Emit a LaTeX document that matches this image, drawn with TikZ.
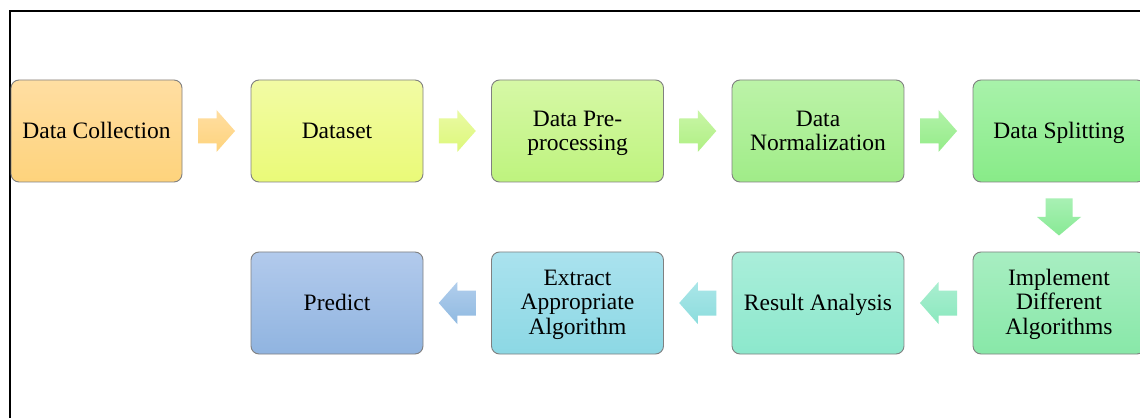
\documentclass[tikz,border=0pt]{standalone}
\usepackage{fontspec}
\setmainfont{Liberation Serif}
\usetikzlibrary{calc}
\begin{document}
\begin{tikzpicture}[x=1pt,y=1pt,
  stepbox/.style={draw=black!50, line width=0.9pt, rounded corners=8pt,
    minimum width=172pt, minimum height=102pt, align=center, inner sep=2pt,
    font=\fontsize{23.5}{24.5}\selectfont, text=black},
  oneline/.style={text height=16pt, text depth=0.5pt},
  twoline/.style={text height=44pt, text depth=4pt},
  threeline/.style={text height=66pt, text depth=4pt},
  rarrow/.pic={\path[pic actions] (-18.5,-12.5) -- (0,-12.5) -- (0,-21) -- (18.5,0) -- (0,21) -- (0,12.5) -- (-18.5,12.5) -- cycle;},
  larrow/.pic={\path[pic actions] (18.5,-12.5) -- (0,-12.5) -- (0,-21) -- (-18.5,0) -- (0,21) -- (0,12.5) -- (18.5,12.5) -- cycle;},
  darrow/.pic={\path[pic actions] (-13.5,18.5) -- (-13.5,0) -- (-22,0) -- (0,-18.5) -- (22,0) -- (13.5,0) -- (13.5,18.5) -- cycle;}
]
\definecolor{c1t}{HTML}{FFDEA2}\definecolor{c1b}{HTML}{FED37C}
\definecolor{c2t}{HTML}{F2FBA4}\definecolor{c2b}{HTML}{EAFA78}
\definecolor{c3t}{HTML}{D6F8A6}\definecolor{c3b}{HTML}{BEF37E}
\definecolor{c4t}{HTML}{BCF3A8}\definecolor{c4b}{HTML}{A0EC88}
\definecolor{c5t}{HTML}{A8F2AA}\definecolor{c5b}{HTML}{88EB88}
\definecolor{c6t}{HTML}{A8EEC2}\definecolor{c6b}{HTML}{88E8A8}
\definecolor{c7t}{HTML}{AAEEDA}\definecolor{c7b}{HTML}{8CE8CC}
\definecolor{c8t}{HTML}{AAE2EE}\definecolor{c8b}{HTML}{8CD8E4}
\definecolor{c9t}{HTML}{B2CAEC}\definecolor{c9b}{HTML}{90B4E0}
\useasboundingbox (0,0) rectangle (1140,418);
\clip (0,0) rectangle (1140,418);
\fill[white] (0,0) rectangle (1140,418);
% frame
\draw[line width=1.8pt] (10,0) -- (10,407) -- (1145,407);
% row 1 (y = 418-131 = 287)
\node[stepbox, oneline, top color=c1t, bottom color=c1b, minimum width=171pt] (b1) at (96.5,287) {Data Collection};
\node[stepbox, oneline, top color=c2t, bottom color=c2b] (b2) at (337,287) {Dataset};
\node[stepbox, twoline, top color=c3t, bottom color=c3b] (b3) at (577.5,287) {Data Pre-\\processing};
\node[stepbox, twoline, top color=c4t, bottom color=c4b] (b4) at (818,287) {Data\\Normalization};
\node[stepbox, oneline, top color=c5t, bottom color=c5b] (b5) at (1059,287) {Data Splitting};
% row 2 (y = 418-303 = 115)
\node[stepbox, threeline, top color=c6t, bottom color=c6b] (b6) at (1059,115) {Implement\\Different\\Algorithms};
\node[stepbox, oneline, top color=c7t, bottom color=c7b] (b7) at (818,115) {Result Analysis};
\node[stepbox, threeline, top color=c8t, bottom color=c8b] (b8) at (577.5,115) {Extract\\Appropriate\\Algorithm};
\node[stepbox, oneline, top color=c9t, bottom color=c9b] (b9) at (337,115) {Predict};
% block arrows
\coordinate (a1) at ($(b1.east)!0.5!(b2.west)$);
\coordinate (a2) at ($(b2.east)!0.5!(b3.west)$);
\coordinate (a3) at ($(b3.east)!0.5!(b4.west)$);
\coordinate (a4) at ($(b4.east)!0.5!(b5.west)$);
\coordinate (a5) at ($(b5.south)!0.5!(b6.north)$);
\coordinate (a6) at ($(b6.west)!0.5!(b7.east)$);
\coordinate (a7) at ($(b7.west)!0.5!(b8.east)$);
\coordinate (a8) at ($(b8.west)!0.5!(b9.east)$);
\pic[top color=c1t, bottom color=c1b] at (a1) {rarrow};
\pic[top color=c2t!70!c3t, bottom color=c2b!70!c3b] at (a2) {rarrow};
\pic[top color=c3t!50!c4t, bottom color=c3b!50!c4b] at (a3) {rarrow};
\pic[top color=c4t!50!c5t, bottom color=c4b!50!c5b] at (a4) {rarrow};
\pic[top color=c5t!60!c6t, bottom color=c5b!60!c6b] at (a5) {darrow};
\pic[top color=c6t!40!c7t, bottom color=c6b!40!c7b] at (a6) {larrow};
\pic[top color=c7t!30!c8t, bottom color=c7b!30!c8b] at (a7) {larrow};
\pic[top color=c8t!15!c9t, bottom color=c8b!15!c9b] at (a8) {larrow};
\end{tikzpicture}
\end{document}
